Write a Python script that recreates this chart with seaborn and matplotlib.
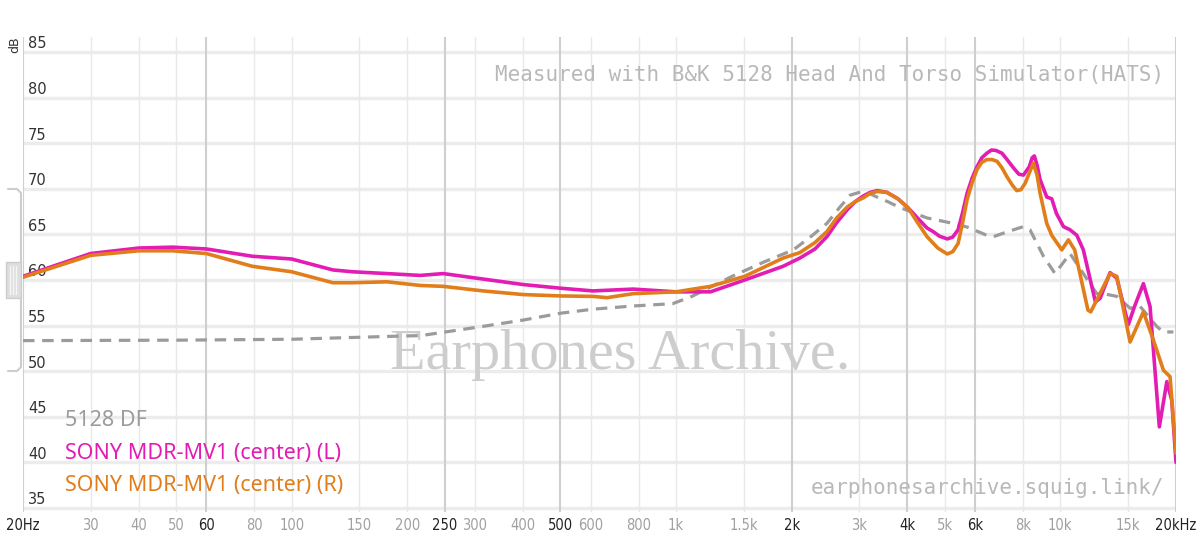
import numpy as np
import pandas as pd
import matplotlib
matplotlib.use("Agg")
import matplotlib.pyplot as plt
import seaborn as sns
from matplotlib.lines import Line2D
from matplotlib.patches import Rectangle

# values (Hz, dB)
df_freq = [20, 50, 100, 192, 217, 313, 400, 500, 609, 775, 980, 1100, 1400, 1700,
           2020, 2250, 2470, 2660, 2840, 3050, 3180, 3330, 3550, 3800, 4070, 4500,
           5000, 5400, 5720, 6440, 6700, 7300, 8020, 8340, 9040, 9690, 10600, 11480,
           12440, 12940, 14030, 15190, 16130, 17830, 18550, 19690]
df_spl = [53.35, 53.4, 53.5, 53.85, 53.9, 54.9, 55.6, 56.35, 56.8, 57.15, 57.4, 58.2,
          60.4, 62.0, 63.3, 64.8, 66.2, 67.9, 69.3, 69.7, 69.5, 69.1, 68.6, 68.0, 67.5,
          66.8, 66.4, 66.1, 65.8, 64.9, 64.75, 65.3, 65.85, 65.5, 62.6, 60.7, 62.9, 60.7,
          58.5, 58.5, 58.2, 56.9, 57.1, 54.9, 54.3, 54.3]

left_freq = [20, 30, 40, 49, 60, 79, 100, 128, 144, 177, 216, 248, 315, 400, 500, 608,
             774, 1000, 1230, 1510, 1900, 2100, 2300, 2470, 2620, 2790, 2930, 3070, 3200,
             3340, 3540, 3780, 4020, 4250, 4500, 4670, 4850, 5080, 5250, 5420, 5570, 5720,
             5900, 6070, 6250, 6440, 6620, 6800, 7050, 7270, 7550, 7800, 8020, 8300, 8450,
             8560, 8700, 8860, 9220, 9500, 9770, 10190, 10600, 11040, 11480, 12340, 12700,
             13470, 14030, 15030, 15600, 16450, 17120, 18100, 18930, 19500, 20000]
left_spl = [60.4, 62.9, 63.5, 63.6, 63.4, 62.6, 62.3, 61.1, 60.9, 60.7, 60.5, 60.7, 60.1,
            59.5, 59.1, 58.8, 59.0, 58.7, 58.7, 60.0, 61.5, 62.4, 63.4, 64.75, 66.3, 67.7,
            68.6, 69.2, 69.6, 69.8, 69.6, 68.9, 67.9, 66.8, 65.7, 65.3, 64.8, 64.5, 64.7,
            65.5, 67.4, 69.5, 71.2, 72.4, 73.4, 73.9, 74.25, 74.2, 73.9, 73.2, 72.3, 71.6,
            71.5, 72.4, 73.4, 73.6, 72.6, 71.0, 69.1, 68.9, 67.3, 65.85, 65.5, 64.9, 63.3,
            57.6, 58.0, 60.8, 60.2, 55.1, 57.1, 59.6, 57.1, 43.9, 48.85, 46.8, 40.0]

right_freq = [20, 30, 40, 49, 60, 79, 100, 128, 144, 177, 216, 248, 315, 400, 500, 608,
              662, 774, 1000, 1230, 1510, 1900, 2100, 2300, 2470, 2620, 2790, 2930, 3070,
              3200, 3340, 3540, 3780, 4020, 4250, 4500, 4800, 5080, 5250, 5420, 5570, 5720,
              5900, 6070, 6250, 6440, 6650, 6850, 7050, 7270, 7500, 7700, 7900, 8100, 8300,
              8510, 8700, 8860, 9220, 9500, 10090, 10500, 10900, 11800, 12000, 13470, 14030,
              15190, 16450, 17470, 18550, 19300, 20000]
right_spl = [60.3, 62.7, 63.2, 63.2, 62.9, 61.5, 60.9, 59.7, 59.7, 59.8, 59.4, 59.3, 58.8,
             58.4, 58.25, 58.2, 58.06, 58.5, 58.7, 59.3, 60.4, 62.4, 63.0, 64.1, 65.3, 66.8,
             68.0, 68.6, 69.0, 69.5, 69.7, 69.6, 68.9, 67.9, 66.3, 64.75, 63.5, 62.85, 63.1,
             64.0, 66.3, 68.8, 70.7, 72.1, 72.9, 73.2, 73.2, 73.0, 72.3, 71.3, 70.4, 69.8,
             69.9, 70.6, 71.7, 72.8, 71.5, 69.5, 66.2, 64.9, 63.3, 64.4, 63.3, 56.7, 56.5,
             60.7, 60.4, 53.2, 56.5, 53.4, 50.1, 49.4, 41.0]

names = ["5128 DF", "SONY MDR-MV1 (center) (L)", "SONY MDR-MV1 (center) (R)"]
colors = ["#9b9b9b", "#e31cb3", "#e27d1b"]

x_major = [20, 60, 250, 500, 2000, 4000, 6000, 20000]
x_minor = [30, 40, 50, 80, 100, 150, 200, 300, 400, 600, 800, 1000, 1500, 3000,
           5000, 8000, 10000, 15000]
x_labels = {20: "20Hz", 30: "30", 40: "40", 50: "50", 60: "60", 80: "80", 100: "100",
            150: "150", 200: "200", 250: "250", 300: "300", 400: "400", 500: "500",
            600: "600", 800: "800", 1000: "1k", 1500: "1.5k", 2000: "2k", 3000: "3k",
            4000: "4k", 5000: "5k", 6000: "6k", 8000: "8k", 10000: "10k", 15000: "15k",
            20000: "20kHz"}
y_ticks = [35, 40, 45, 50, 55, 60, 65, 70, 75, 80, 85]

W, H = 1200, 551
sns.set_style("white")
fig = plt.figure(figsize=(W / 100, H / 100), dpi=100)
ax = fig.add_axes([23 / W, 39 / H, 1153 / W, 475 / H])
ax.set_xscale("log")
ax.set_xlim(20, 20000)
ax.set_ylim(34.56, 86.64)

for y in y_ticks:
    ax.axhline(y, color="#ececec", lw=2.4, zorder=0)
for f in x_minor:
    ax.axvline(f, color="#e9e9e9", lw=1.0, zorder=0)
for f in x_major:
    ax.axvline(f, color="#cfcfcf", lw=1.5, zorder=0)

for s in ax.spines.values():
    s.set_visible(False)
ax.set_xticks([])
ax.set_yticks([])
ax.minorticks_off()

# watermark
ax.text(0.518, 0.33, "Earphones Archive.", transform=ax.transAxes, ha="center",
        va="center", fontsize=42, family="Liberation Serif", color="#cdcdcd", zorder=1)

sns.lineplot(x=df_freq, y=df_spl, ax=ax, color=colors[0], lw=2.3,
             linestyle=(0, (3.6, 2.4)), zorder=3)
sns.lineplot(x=left_freq, y=left_spl, ax=ax, color=colors[1], lw=2.6, zorder=4)
sns.lineplot(x=right_freq, y=right_spl, ax=ax, color=colors[2], lw=2.6, zorder=5)
ax.set_xlabel("")
ax.set_ylabel("")


def fx(px):
    return px / W


def fy(py):
    return 1 - py / H


# y labels inside the plot
for y in y_ticks:
    ax.text(20 * 10 ** (5 / 384.3), y + 0.4, str(y), ha="left", va="baseline",
            fontsize=10.5, color="#333333", family="DejaVu Sans")
fig.text(fx(15), fy(45), "dB", rotation=90, ha="center", va="center",
         fontsize=9, color="#333333")

# x labels
for f, lab in x_labels.items():
    dark = f in x_major
    ax.text(f, -0.012, lab, transform=ax.get_xaxis_transform(), ha="center", va="top",
            fontsize=10.5, color="#222222" if dark else "#a0a0a0",
            family="DejaVu Sans", stretch="condensed")

fig.text(fx(1164), fy(75), "Measured with B&K 5128 Head And Torso Simulator(HATS)",
         ha="right", va="center", fontsize=15, family="DejaVu Sans Mono",
         color="#b8b8b8")
fig.text(fx(1164), fy(488), "earphonesarchive.squig.link/", ha="right", va="center",
         fontsize=15, family="DejaVu Sans Mono", color="#b8b8b8")

for i, (n, c) in enumerate(zip(names, colors)):
    fig.text(fx(65), fy(420 + 33 * i), n, ha="left", va="center", fontsize=15.5,
             family="Noto Sans", fontweight="medium", color=c)

# slider handle on the left edge
g = "#cdcdcd"
fig.add_artist(Line2D([fx(8), fx(17), fx(21), fx(21)], [fy(189), fy(189), fy(193), fy(262)],
                      color=g, lw=1.5))
fig.add_artist(Line2D([fx(21), fx(21), fx(17), fx(8)], [fy(298), fy(367), fy(371), fy(371)],
                      color=g, lw=1.5))
fig.add_artist(Rectangle((fx(6), fy(298)), 15 / W, 36 / H, facecolor="#dedede",
                         edgecolor=g, lw=1))
for xx in [10, 13, 16]:
    fig.add_artist(Line2D([fx(xx), fx(xx)], [fy(266), fy(294)], color="#f5f5f5", lw=1))

fig.savefig("out.png", dpi=100)
